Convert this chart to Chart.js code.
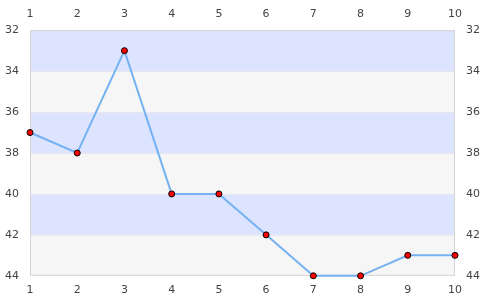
<!DOCTYPE html>
<html>
<head>
<meta charset="utf-8">
<script src="https://cdn.jsdelivr.net/npm/chart.js@4.4.1/dist/chart.umd.min.js"></script>
<style>
  html, body { margin: 0; padding: 0; background: #fff; }
  #wrap { width: 485px; height: 300px; }
</style>
</head>
<body>
<div id="wrap"><canvas id="chart"></canvas></div>
<script>
const categories = ['1', '2', '3', '4', '5', '6', '7', '8', '9', '10'];
const values = [37, 38, 33, 40, 40, 42, 44, 44, 43, 43];
const bandEdges = [32, 34, 36, 38, 40, 42, 44];

// Alternating horizontal bands behind the plot
const bandsPlugin = {
    id: 'bands',
    beforeDatasetsDraw(chart) {
        const { ctx, chartArea, scales } = chart;
        ctx.save();
        for (let i = 0; i < bandEdges.length - 1; i++) {
            const y1 = scales.y.getPixelForValue(bandEdges[i]);
            const y2 = scales.y.getPixelForValue(bandEdges[i + 1]);
            ctx.fillStyle = i % 2 === 0 ? '#dde4ff' : '#f6f6f6';
            ctx.fillRect(chartArea.left, Math.min(y1, y2), chartArea.right - chartArea.left, Math.abs(y2 - y1));
            if (i > 0) {
                ctx.strokeStyle = '#e8e8ee';
                ctx.lineWidth = 1;
                ctx.beginPath();
                ctx.moveTo(chartArea.left, Math.round(y1) + 0.5);
                ctx.lineTo(chartArea.right, Math.round(y1) + 0.5);
                ctx.stroke();
            }
        }
        ctx.strokeStyle = '#d4d4d4';
        ctx.lineWidth = 1;
        ctx.strokeRect(chartArea.left + 0.5, chartArea.top + 0.5, chartArea.right - chartArea.left - 1, chartArea.bottom - chartArea.top - 1);
        ctx.restore();
    }
};

const tickFont = { family: "'DejaVu Sans', sans-serif", size: 11 };
const tickColor = '#444';

function xAxis(position, pad) {
    return {
        type: 'category',
        labels: categories,
        position: position,
        offset: false,
        grid: { display: false },
        border: { display: false },
        ticks: { color: tickColor, font: tickFont, padding: pad, maxRotation: 0 }
    };
}

function yAxis(position) {
    return {
        type: 'linear',
        position: position,
        reverse: true,
        min: 32,
        max: 44,
        grid: { display: false },
        border: { display: false },
        ticks: { stepSize: 2, color: tickColor, font: tickFont, padding: 3 }
    };
}

new Chart(document.getElementById('chart'), {
    type: 'line',
    data: {
        labels: categories,
        datasets: [{
            data: values,
            borderColor: '#74b2f2',
            borderWidth: 2,
            pointBackgroundColor: '#ff0000',
            pointBorderColor: '#000',
            pointBorderWidth: 1,
            pointRadius: 3,
            tension: 0,
            clip: false,
            xAxisID: 'x',
            yAxisID: 'y'
        }]
    },
    options: {
        responsive: true,
        maintainAspectRatio: false,
        animation: false,
        layout: { padding: { left: 2, right: 2, top: 7, bottom: 3 } },
        plugins: { legend: { display: false }, tooltip: { enabled: false } },
        scales: {
            x: xAxis('bottom', 0),
            x2: xAxis('top', 1),
            y: yAxis('left'),
            y2: yAxis('right')
        }
    },
    plugins: [bandsPlugin]
});
</script>
</body>
</html>
